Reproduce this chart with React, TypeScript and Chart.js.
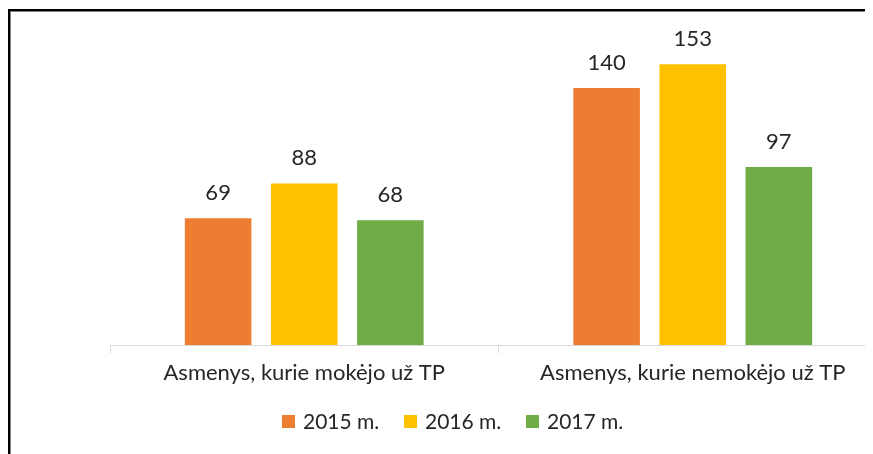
import React, { useEffect, useRef } from "react";
import { Chart, registerables } from "chart.js";

Chart.register(...registerables);

const categories = ["Asmenys, kurie mokėjo už TP", "Asmenys, kurie nemokėjo už TP"];
const seriesNames = ["2015 m.", "2016 m.", "2017 m."];
const values2015 = [69, 140];
const values2016 = [88, 153];
const values2017 = [68, 97];
const colors = ["#ED7D31", "#FFC000", "#70AD47"];

const FONT = "Lato, 'Open Sans', sans-serif";
const TEXT = "#262626";

const valueLabels = {
  id: "valueLabels",
  afterDatasetsDraw(chart: any) {
    const ctx = chart.ctx;
    ctx.save();
    ctx.font = `22px ${FONT}`;
    ctx.fillStyle = TEXT;
    ctx.textAlign = "center";
    ctx.textBaseline = "alphabetic";
    chart.data.datasets.forEach((ds: any, i: number) => {
      const meta = chart.getDatasetMeta(i);
      meta.data.forEach((el: any, j: number) => {
        ctx.fillText(String(ds.data[j]), el.x, el.y - 18);
      });
    });
    ctx.restore();
  },
};

export default function App() {
  const ref = useRef<HTMLCanvasElement | null>(null);
  useEffect(() => {
    if (!ref.current) return;
    const series = [values2015, values2016, values2017];
    const chart = new Chart(ref.current, {
      type: "bar",
      data: {
        labels: categories,
        datasets: series.map((d, i) => ({
          label: seriesNames[i],
          data: d,
          backgroundColor: colors[i],
          borderWidth: 0,
          categoryPercentage: 0.665,
          barPercentage: 0.773,
        })),
      },
      options: {
        responsive: false,
        animation: false,
        layout: { padding: { left: 102, right: 21, top: 25, bottom: 49 } },
        plugins: { legend: { display: false }, tooltip: { enabled: false } },
        scales: {
          x: {
            grid: {
              drawOnChartArea: false,
              drawTicks: true,
              tickLength: 8,
              color: "#d9d9d9",
              offset: true,
            },
            border: { display: true, color: "#d9d9d9", width: 1 },
            ticks: {
              color: TEXT,
              font: { family: FONT, size: 22 },
              padding: 7,
              maxRotation: 0,
              autoSkip: false,
            },
            afterFit: (scale: any) => {
              scale.height = 60;
            },
          },
          y: { display: false, min: 0, max: 170 },
        },
      },
      plugins: [valueLabels],
    });
    return () => chart.destroy();
  }, []);

  const legendItem = (i: number) => (
    <div key={i} style={{ display: "flex", alignItems: "center", width: 122 }}>
      <div style={{ width: 13, height: 13, background: colors[i], marginRight: 8 }} />
      <span style={{ fontFamily: FONT, fontSize: 21, color: TEXT, lineHeight: "24px", whiteSpace: "nowrap" }}>
        {seriesNames[i]}
      </span>
    </div>
  );

  return (
    <div style={{ position: "relative", width: 865, height: 446, overflow: "hidden" }}>
      <div
        style={{
          position: "absolute",
          left: 0,
          top: 1,
          width: 2000,
          height: 2000,
          borderTop: "2px solid #000",
          borderLeft: "2px solid #000",
          boxShadow: "inset 1px 1px 0 #808080",
        }}
      />
      <canvas ref={ref} width={900} height={446} style={{ position: "absolute", left: 0, top: 0 }} />
      <div style={{ position: "absolute", left: 274, top: 401, display: "flex" }}>
        {seriesNames.map((_, i) => legendItem(i))}
      </div>
    </div>
  );
}
